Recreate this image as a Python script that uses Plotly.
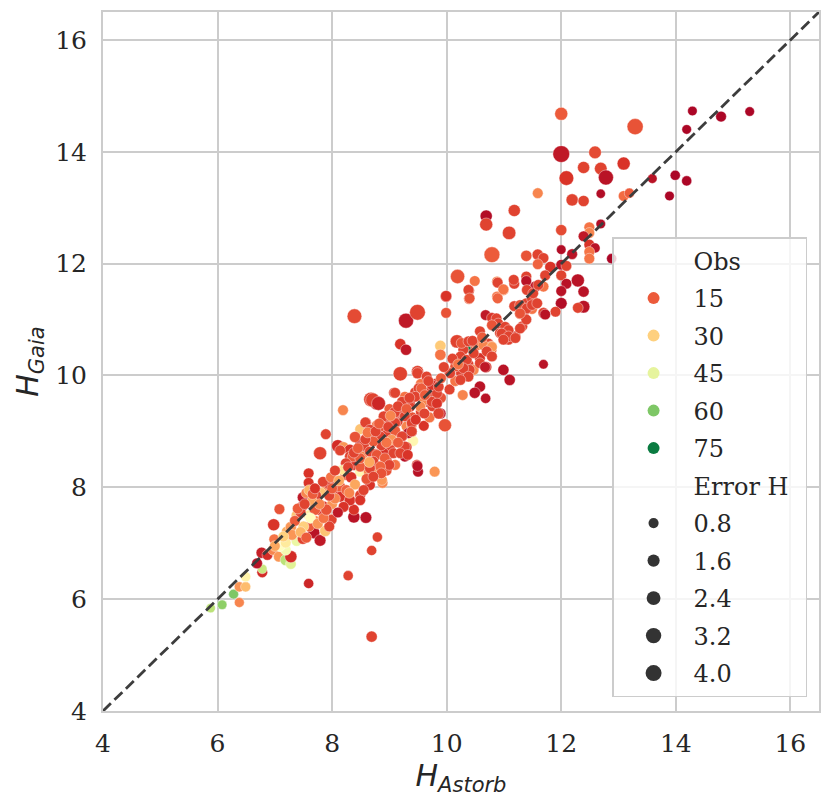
import numpy as np
import plotly.graph_objects as go
from plotly.colors import sample_colorscale

# ---------------- data ----------------
h_astorb = [
    5.88, 6.08, 6.28, 6.38, 6.38, 6.49, 6.49, 6.78, 6.78, 6.69,
    6.77, 6.87, 6.97, 7.07, 7.19, 7.28, 7.28, 7.19, 7.09, 7.19,
    7.38, 6.99, 7.21, 6.98, 7.28, 7.49, 7.68, 7.79, 7.88, 7.08,
    7.59, 8.28, 8.69, 8.79, 8.69, 8.38, 8.59, 8.38, 7.99, 7.59,
    7.59, 8.88, 7.47, 7.49, 7.38, 7.59, 7.79, 7.99, 7.79, 7.89,
    8.19, 8.10, 8.20, 8.49, 8.49, 8.59, 8.68, 8.78, 8.78, 8.90,
    8.90, 9.08, 9.19, 9.27, 9.08, 9.30, 9.39, 9.41, 9.29, 9.48,
    9.50, 9.79, 9.36, 9.68, 9.89, 9.97,
    8.39, 9.29, 9.49, 9.19, 9.29, 9.89, 9.89, 9.99, 9.99, 10.19,
    10.49, 10.39, 10.39, 10.88, 10.99, 10.88, 11.18, 11.39, 11.55, 10.37,
    9.49, 10.99, 11.10, 10.58, 10.49, 10.68, 10.69, 10.18, 10.68,
    12.00, 13.29, 14.29, 14.79, 15.29, 14.19, 12.00, 12.59, 12.39, 12.69,
    12.78, 13.09, 12.09, 13.59, 13.99, 14.19, 13.89, 11.59, 12.19, 12.39,
    12.69, 13.09, 13.19, 10.69, 10.69, 11.18, 11.09, 12.00, 12.49, 12.49,
    12.69, 12.39, 12.49, 12.59, 12.49, 12.49, 12.19, 12.00, 10.79, 11.39,
    11.59, 11.69, 11.59, 12.00, 11.81, 12.09, 12.88, 11.39, 11.69, 11.72,
    12.00, 12.09, 12.00, 12.00, 12.29, 12.39, 12.39, 12.29, 11.90, 11.69,
    11.39, 11.49, 11.49, 11.28, 11.18, 11.69,
    8.31, 8.49, 8.31, 8.52, 8.40, 8.69, 8.69, 8.49, 8.64, 8.81,
    8.87, 8.66, 8.17, 8.23, 8.33, 7.90, 7.95, 8.08, 8.15, 8.14,
    7.80, 7.72, 7.85, 8.31, 8.49, 8.49, 8.00, 8.20, 8.10, 7.70,
    7.60, 7.95, 9.01, 8.90, 8.95, 8.86, 9.07, 9.25, 9.27, 9.14,
    9.00, 9.20, 9.40, 9.55, 9.60, 9.70, 9.45, 9.55, 9.70, 9.80,
    9.90, 10.05, 10.15, 10.05, 10.25, 10.38, 10.47, 10.58, 10.58, 10.29,
    10.50, 10.73, 10.78, 10.78, 10.58, 10.87, 10.79, 10.93, 11.08, 11.20,
    11.08, 11.34, 11.32, 10.28, 9.83, 9.51, 9.07, 8.96, 8.84, 9.33,
    9.39, 9.25, 9.60, 9.75,
    7.55, 7.65, 7.70, 7.45, 7.62, 7.75, 7.50, 7.35, 7.85, 7.90,
    8.05, 7.60, 7.95, 8.25, 8.40, 8.60, 8.75, 8.55, 8.40, 8.70,
    9.05, 8.95, 9.10, 8.49, 8.78, 9.30, 9.49,
]
h_gaia = [
    5.84, 5.90, 6.09, 5.94, 6.22, 6.22, 6.40, 6.48, 6.54, 6.64,
    6.83, 6.79, 6.88, 6.76, 6.70, 6.63, 6.76, 6.88, 6.95, 7.01,
    7.04, 7.07, 7.21, 7.33, 7.29, 7.08, 7.19, 7.05, 7.22, 7.61,
    6.28, 6.42, 6.87, 7.11, 5.33, 7.47, 7.46, 7.60, 7.43, 8.25,
    8.08, 8.08, 7.65, 7.82, 7.50, 7.50, 7.59, 7.42, 8.61, 8.95,
    9.38, 8.74, 8.72, 8.80, 9.04, 9.16, 9.57, 9.51, 9.11, 9.23,
    9.00, 9.69, 10.03, 9.62, 9.32, 9.09, 9.00, 8.83, 8.58, 8.40,
    8.28, 8.28, 9.50, 9.53, 9.32, 9.11,
    11.06, 10.98, 11.13, 10.56, 10.46, 10.53, 10.37, 11.41, 11.12, 11.77,
    11.69, 11.52, 11.37, 11.68, 11.53, 11.41, 11.64, 11.77, 11.59, 10.50,
    10.07, 10.10, 9.92, 9.80, 9.69, 9.59, 10.15, 10.61, 11.08,
    14.68, 14.45, 14.73, 14.63, 14.72, 14.40, 13.96, 13.99, 13.72, 13.70,
    13.54, 13.79, 13.53, 13.52, 13.58, 13.48, 13.21, 13.26, 13.14, 13.12,
    13.25, 13.21, 13.26, 12.85, 12.70, 12.95, 12.55, 12.60, 12.65, 12.55,
    12.71, 12.49, 12.34, 12.28, 12.21, 12.09, 12.17, 12.25, 12.16, 12.14,
    12.16, 12.10, 11.99, 11.98, 11.94, 11.96, 12.09, 11.69, 11.59, 11.79,
    11.79, 11.64, 11.51, 11.29, 11.70, 11.50, 11.23, 11.21, 11.14, 11.12,
    11.29, 11.37, 11.19, 11.10, 11.24, 10.20,
    8.67, 8.64, 8.55, 8.55, 8.40, 8.49, 8.35, 8.28, 8.28, 8.37,
    8.13, 8.04, 8.31, 8.22, 8.18, 8.01, 8.05, 7.95, 8.00, 7.83,
    7.90, 7.85, 7.66, 7.77, 7.86, 7.77, 7.70, 7.65, 7.55, 7.40,
    7.30, 7.30, 8.72, 8.61, 8.49, 8.75, 8.61, 8.67, 8.55, 9.18,
    9.40, 9.35, 9.25, 9.35, 9.10, 9.25, 9.70, 9.85, 9.70, 9.85,
    9.60, 9.75, 9.90, 10.05, 10.05, 10.20, 10.10, 10.31, 10.22, 10.46,
    10.54, 10.57, 10.52, 10.45, 10.79, 10.90, 11.03, 10.76, 10.77, 10.70,
    10.64, 11.11, 10.88, 9.65, 9.68, 9.77, 9.20, 9.21, 9.03, 8.97,
    9.12, 9.50, 9.55, 9.45,
    7.90, 7.75, 7.60, 7.55, 7.45, 7.35, 7.30, 7.40, 7.45, 7.60,
    7.80, 7.95, 7.85, 7.95, 8.05, 8.15, 8.60, 8.75, 8.90, 8.90,
    8.95, 8.30, 8.40, 8.37, 8.25, 8.72, 8.38,
]
n_obs = [
    52, 58, 60, 20, 22, 27, 37, 9, 50, 5,
    7, 9, 20, 22, 52, 46, 9, 42, 40, 35,
    44, 18, 25, 10, 22, 12, 5, 6, 28, 14,
    8, 12, 12, 12, 12, 5, 5, 10, 18, 10,
    10, 20, 10, 6, 28, 36, 10, 12, 12, 12,
    20, 9, 22, 5, 28, 12, 12, 6, 18, 10,
    10, 12, 12, 18, 12, 20, 6, 38, 6, 12,
    5, 22, 12, 5, 5, 14,
    13, 6, 12, 10, 6, 29, 18, 10, 14, 14,
    18, 12, 16, 20, 20, 18, 12, 12, 6, 75,
    12, 5, 5, 5, 5, 5, 10, 12, 6,
    15, 14, 3, 3, 3, 3, 6, 13, 12, 12,
    5, 10, 10, 5, 3, 3, 3, 20, 12, 12,
    4, 17, 15, 4, 12, 12, 12, 13, 18, 20,
    4, 6, 10, 5, 18, 18, 5, 4, 15, 14,
    12, 12, 16, 5, 10, 12, 3, 5, 18, 12,
    12, 5, 5, 4, 5, 5, 5, 12, 12, 12,
    12, 12, 18, 18, 12, 5,
    10, 12, 12, 20, 10, 18, 10, 38, 20, 5,
    22, 10, 36, 15, 10, 22, 10, 10, 15, 10,
    28, 12, 10, 10, 12, 10, 22, 10, 6, 20,
    15, 12, 12, 10, 12, 12, 12, 12, 5, 12,
    15, 12, 14, 12, 10, 18, 12, 18, 12, 10,
    14, 12, 18, 12, 12, 12, 20, 10, 12, 12,
    12, 12, 20, 16, 12, 12, 10, 12, 12, 10,
    12, 12, 12, 20, 12, 12, 12, 12, 5, 5,
    20, 12, 20, 12,
    20, 24, 15, 12, 40, 22, 30, 15, 18, 14,
    20, 26, 12, 16, 24, 14, 16, 12, 14, 10,
    22, 14, 18, 15, 22, 12, 5,
]
error_h = [
    0.5, 0.6, 0.7, 0.7, 0.8, 0.8, 0.8, 1.0, 0.6, 1.0,
    1.2, 1.0, 1.0, 1.0, 1.2, 1.0, 1.6, 1.0, 1.0, 1.0,
    1.0, 1.0, 1.0, 1.6, 1.2, 1.2, 1.6, 1.4, 1.2, 1.0,
    0.8, 0.8, 0.8, 0.8, 1.2, 1.6, 1.4, 1.0, 1.0, 1.0,
    1.0, 1.0, 1.2, 1.2, 1.0, 1.0, 1.0, 1.0, 2.0, 1.0,
    1.0, 1.8, 1.0, 1.0, 1.0, 1.0, 2.8, 2.6, 1.0, 1.0,
    1.0, 1.0, 2.6, 1.0, 2.2, 1.0, 1.0, 1.2, 1.0, 1.0,
    1.0, 1.0, 1.0, 1.2, 1.2, 2.0,
    2.8, 3.0, 3.4, 1.2, 1.2, 1.2, 1.2, 1.2, 1.0, 2.6,
    1.0, 1.0, 1.0, 1.0, 1.2, 1.0, 1.0, 1.0, 1.2, 0.5,
    1.6, 1.2, 1.2, 1.2, 1.2, 0.8, 1.2, 2.2, 1.0,
    2.0, 3.6, 0.6, 1.0, 0.6, 0.6, 4.0, 1.8, 1.6, 1.8,
    3.0, 2.0, 2.8, 0.6, 0.8, 0.8, 0.6, 1.0, 1.6, 1.2,
    0.5, 1.0, 0.8, 1.6, 2.0, 1.6, 2.2, 1.2, 1.0, 1.0,
    0.6, 1.0, 1.0, 0.8, 1.0, 1.0, 1.0, 0.6, 3.4, 1.2,
    1.2, 1.0, 1.0, 1.0, 1.2, 1.0, 0.8, 1.0, 1.0, 1.0,
    1.0, 1.0, 1.0, 1.4, 2.0, 1.2, 1.8, 1.0, 1.0, 1.0,
    1.0, 1.0, 1.0, 1.0, 1.0, 0.6,
    1.2, 1.2, 1.0, 1.0, 1.2, 1.0, 1.0, 1.0, 1.0, 1.2,
    1.0, 1.0, 1.0, 1.0, 1.2, 1.0, 1.0, 1.2, 1.0, 1.0,
    1.0, 1.0, 1.0, 1.2, 1.0, 1.0, 1.0, 1.0, 1.0, 1.0,
    1.0, 1.0, 1.0, 1.0, 1.0, 1.0, 1.0, 1.0, 1.0, 1.2,
    1.0, 1.2, 1.0, 1.0, 1.0, 1.0, 1.0, 1.0, 1.2, 1.0,
    1.0, 1.0, 1.0, 1.0, 1.0, 1.0, 1.0, 1.0, 1.0, 1.0,
    1.0, 1.0, 1.0, 1.0, 1.0, 1.0, 1.0, 1.0, 1.0, 1.0,
    1.0, 1.0, 1.0, 1.0, 1.0, 1.0, 1.0, 1.0, 1.0, 1.0,
    1.0, 1.0, 1.0, 1.0,
    1.0, 1.0, 1.2, 1.0, 1.0, 1.0, 1.0, 1.0, 1.0, 1.2,
    1.0, 1.0, 1.0, 1.0, 1.0, 1.0, 1.0, 1.2, 1.2, 1.0,
    1.0, 1.0, 1.0, 1.0, 1.0, 1.0, 1.0,
]

# additional points of the dense core along the diagonal
core_astorb = [
    9.49, 9.65, 9.74, 9.56, 9.86, 9.74, 9.83, 9.86, 9.45, 9.54,
    9.36, 9.22, 9.10, 8.71, 8.81, 9.09, 9.27, 9.39, 9.46, 9.61,
    9.10, 8.90, 8.58, 8.66, 8.87, 8.95, 8.84, 9.10, 9.04, 9.22,
    9.39, 9.27, 9.19, 9.32, 8.14, 8.36, 8.24, 8.49, 8.66, 8.78,
    8.72, 8.92, 9.00, 8.84, 8.66, 8.86, 8.72, 8.20, 8.72,
    9.99, 10.38, 10.40, 10.89, 10.89, 10.99, 11.17, 11.40, 11.51, 11.60,
    11.28, 11.40, 11.49, 11.58, 11.69, 11.39, 11.28, 10.87, 10.90, 10.79,
    11.02, 11.08, 10.96, 11.28, 11.08, 11.20, 10.99, 10.26, 10.38, 10.53,
    10.64, 10.79, 10.70, 10.79, 10.24, 10.35, 10.47, 10.67, 10.40, 10.29,
    10.15, 10.38, 10.24, 10.06, 11.72,
    7.40, 7.52, 7.66, 7.78, 7.84, 7.98, 8.05, 8.12, 8.28, 8.38,
    8.45, 8.58, 8.62, 8.76, 8.82, 8.98, 9.02, 9.15, 9.30, 9.35,
    9.62, 9.68, 9.90, 9.95, 10.10, 10.20, 10.45, 10.62, 7.30, 7.45,
    7.55, 7.15, 7.00, 7.70, 8.00, 8.30, 8.55, 8.65, 8.95, 9.15,
]
core_gaia = [
    10.04, 9.98, 9.83, 9.77, 9.80, 9.53, 9.50, 9.32, 9.62, 9.44,
    9.44, 9.53, 9.69, 9.56, 9.50, 9.34, 9.27, 9.15, 9.21, 9.32,
    9.15, 9.27, 9.16, 9.03, 9.09, 8.94, 8.91, 9.01, 8.85, 8.91,
    9.00, 8.73, 8.61, 8.58, 8.66, 8.55, 8.43, 8.52, 8.64, 8.58,
    8.46, 8.52, 8.40, 8.37, 8.34, 8.25, 8.19, 8.31, 8.82,
    11.42, 11.53, 11.38, 11.66, 11.38, 11.54, 11.71, 11.53, 11.47, 11.62,
    11.26, 11.20, 11.26, 11.29, 11.12, 11.00, 11.11, 11.02, 10.93, 10.90,
    10.87, 10.81, 10.75, 10.84, 10.70, 10.67, 10.64, 10.58, 10.61, 10.54,
    10.54, 10.51, 10.43, 10.34, 10.34, 10.28, 10.40, 10.15, 10.10, 10.13,
    10.16, 9.98, 9.92, 10.04, 11.09,
    7.62, 7.70, 7.88, 7.70, 8.10, 8.18, 8.30, 8.12, 8.36, 8.62,
    8.70, 8.86, 8.98, 9.00, 9.14, 9.08, 9.28, 9.45, 9.40, 9.60,
    9.65, 9.90, 9.95, 10.15, 10.30, 10.20, 10.62, 10.68, 7.15, 7.20,
    7.10, 7.12, 6.95, 7.98, 7.98, 7.90, 7.95, 8.45, 8.80, 8.80,
]
core_obs = [
    12, 12, 10, 15, 12, 12, 10, 12, 12, 20,
    12, 12, 12, 12, 8, 12, 12, 12, 10, 12,
    12, 12, 12, 12, 14, 12, 12, 15, 22, 12,
    12, 12, 12, 10, 12, 15, 12, 15, 12, 14,
    12, 15, 12, 16, 12, 14, 12, 34, 15,
    10, 12, 14, 12, 16, 18, 12, 12, 12, 12,
    14, 12, 12, 12, 12, 12, 14, 12, 12, 14,
    12, 12, 12, 12, 12, 12, 12, 14, 12, 18,
    20, 22, 12, 12, 12, 12, 12, 6, 12, 12,
    14, 12, 12, 12, 5,
    15, 12, 15, 20, 12, 18, 12, 24, 12, 12,
    15, 12, 18, 12, 15, 12, 20, 12, 15, 12,
    15, 12, 15, 12, 12, 18, 12, 15, 22, 26,
    15, 30, 24, 10, 15, 20, 12, 24, 18, 15,
]
core_err = [
    1.2, 1.0, 1.0, 1.0, 1.0, 1.0, 1.0, 1.2, 1.0, 1.0,
    1.0, 1.0, 1.0, 2.6, 2.4, 1.2, 1.0, 1.0, 1.0, 1.0,
    1.0, 1.0, 1.0, 1.0, 1.0, 1.0, 1.0, 1.0, 1.0, 1.0,
    1.0, 1.0, 1.0, 1.0, 1.0, 1.0, 1.0, 1.0, 1.0, 1.0,
    1.0, 1.0, 1.0, 1.0, 1.0, 1.0, 1.0, 1.0, 1.0,
    1.2, 1.0, 1.0, 1.0, 1.0, 1.0, 1.0, 1.0, 1.0, 1.0,
    1.0, 1.0, 1.0, 1.0, 1.0, 1.0, 1.0, 1.0, 1.0, 1.0,
    1.0, 1.0, 1.0, 1.0, 1.0, 1.0, 1.0, 1.0, 1.0, 1.0,
    1.0, 1.0, 1.0, 1.0, 1.0, 1.0, 1.0, 1.0, 1.0, 1.0,
    1.0, 1.0, 1.0, 1.0, 1.0,
    1.0, 1.0, 1.0, 1.0, 1.0, 1.0, 1.0, 1.0, 1.0, 1.0,
    1.0, 1.0, 1.0, 1.0, 1.0, 1.0, 1.0, 1.0, 1.0, 1.0,
    1.0, 1.0, 1.0, 1.0, 1.0, 1.0, 1.0, 1.0, 1.0, 1.0,
    1.0, 1.0, 1.0, 1.0, 1.0, 1.0, 1.0, 1.0, 1.0, 1.0,
]

identity_line = [4, 16.5]
axis_ticks = [4, 6, 8, 10, 12, 14, 16]
legend_obs = [15, 30, 45, 60, 75]
legend_err = [0.8, 1.6, 2.4, 3.2, 4.0]

# ---------------- styling ----------------
CMIN, CMAX = 2, 78
SERIF = "DejaVu Serif"
SANS = "DejaVu Sans"
TXT = "#262626"


def diam_array(errs):
    return np.sqrt(58 + 56 * np.asarray(errs, dtype=float))


all_x = h_astorb + core_astorb
all_y = h_gaia + core_gaia
all_obs = n_obs + core_obs
all_err = error_h + core_err

fig = go.Figure()

fig.add_trace(go.Scatter(
    x=all_x, y=all_y, mode="markers", showlegend=False,
    marker=dict(
        color=all_obs, colorscale="RdYlGn", cmin=CMIN, cmax=CMAX,
        size=diam_array(all_err), opacity=1.0,
        line=dict(color="white", width=0.4),
    ),
    hoverinfo="skip",
))

fig.add_trace(go.Scatter(
    x=identity_line, y=identity_line, mode="lines", showlegend=False,
    line=dict(color="#3d3d3d", width=2.8, dash="11px,5px"),
    hoverinfo="skip",
))

gi = 0


def add_legend_entry(name, color=None, size=12):
    global gi
    gi += 1
    fig.add_trace(go.Scatter(
        x=[None], y=[None], mode="markers", name=name,
        legendgroup=f"g{gi}",
        marker=dict(color=color if color else "rgba(0,0,0,0)", size=size,
                    line=dict(width=0)),
        showlegend=True,
    ))


add_legend_entry("Obs", None, 1)
for v in legend_obs:
    c = sample_colorscale("RdYlGn", [(v - CMIN) / (CMAX - CMIN)])[0]
    add_legend_entry(str(v), c, 12)
add_legend_entry("Error H\u2002", None, 1)
for v in legend_err:
    add_legend_entry(f"{v:.1f}", "#333333", float(diam_array([v])[0]))

axis_common = dict(
    range=[4, 16.5], tickvals=axis_ticks, ticktext=[str(t) for t in axis_ticks],
    showgrid=True, gridcolor="#cccccc", gridwidth=1.8,
    showline=True, linecolor="#cccccc", linewidth=2, mirror=True,
    zeroline=False, ticks="", tickfont=dict(family=SERIF, size=25, color=TXT),
    automargin=False,
)

# the page adds an 8px body margin, so the figure is 8px smaller than the window
fig.update_layout(
    width=823, height=797,
    margin=dict(l=95, r=12, t=4, b=94),
    paper_bgcolor="white", plot_bgcolor="white",
    xaxis=dict(**axis_common,
               title=dict(text="<i>H</i><sub><i>Astorb</i></sub>",
                          font=dict(family=SANS, size=30, color=TXT), standoff=0),
               ticklabelstandoff=9),
    yaxis=dict(**axis_common,
               title=dict(text="<i>H</i><sub><i>Gaia</i></sub>",
                          font=dict(family=SANS, size=30, color=TXT), standoff=8),
               ticklabelstandoff=9),
    legend=dict(
        x=0.711, y=0.02, xanchor="left", yanchor="bottom",
        bgcolor="rgba(255,255,255,0.8)", bordercolor="#cccccc", borderwidth=1.5,
        font=dict(family=SERIF, size=24, color=TXT),
        itemwidth=70, tracegroupgap=3.3, itemsizing="trace",
    ),
    showlegend=True,
)

fig.write_html("out.html")
